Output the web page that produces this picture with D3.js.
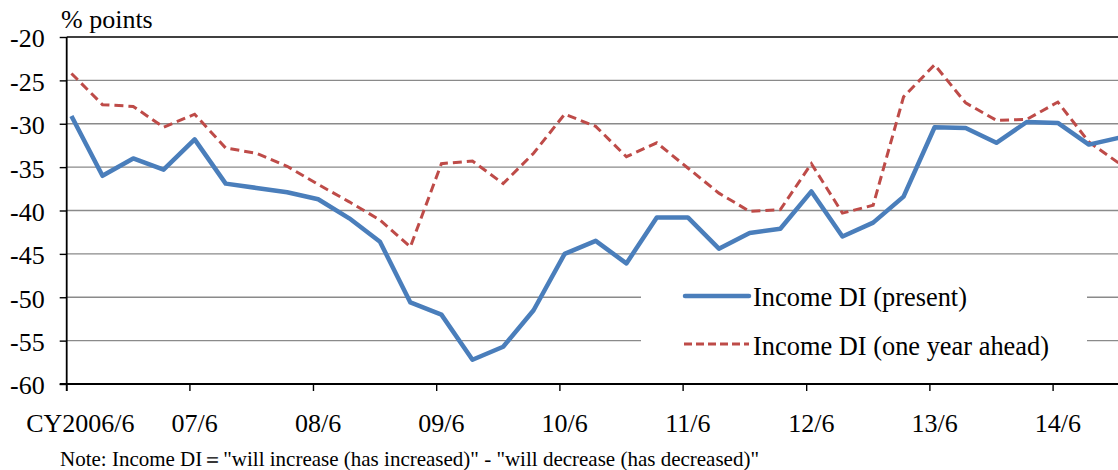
<!DOCTYPE html>
<html><head><meta charset="utf-8">
<script src="https://cdn.jsdelivr.net/npm/d3@7"></script>
<style>
body{margin:0;background:#fff}
svg{display:block}
</style>
</head><body>
<svg id="c" width="1118" height="470"></svg>
<script>
// ---- data ----
const quarters = ["2006-06","2006-09","2006-12","2007-03","2007-06","2007-09","2007-12","2008-03",
  "2008-06","2008-09","2008-12","2009-03","2009-06","2009-09","2009-12","2010-03",
  "2010-06","2010-09","2010-12","2011-03","2011-06","2011-09","2011-12","2012-03",
  "2012-06","2012-09","2012-12","2013-03","2013-06","2013-09","2013-12","2014-03",
  "2014-06","2014-09","2014-12"];
const incomePresent = [-29.1,-36.0,-34.0,-35.3,-31.8,-36.9,-37.4,-37.9,
  -38.7,-40.9,-43.6,-50.6,-52.0,-57.2,-55.7,-51.5,
  -45.0,-43.5,-46.1,-40.8,-40.8,-44.4,-42.6,-42.1,
  -37.8,-43.0,-41.4,-38.4,-30.4,-30.5,-32.2,-29.8,
  -29.9,-32.4,-31.6];
const incomeAhead = [-24.2,-27.8,-28.0,-30.4,-28.9,-32.8,-33.4,-34.9,
  -37.0,-39.0,-41.1,-44.2,-34.6,-34.3,-36.9,-33.4,
  -28.9,-30.3,-33.8,-32.2,-35.1,-38.0,-40.1,-39.9,
  -34.6,-40.3,-39.4,-26.9,-23.2,-27.6,-29.6,-29.5,
  -27.5,-32.1,-34.6];
const yTicks = [-60,-55,-50,-45,-40,-35,-30,-25,-20];
const xTickYears = ["2006","2007","2008","2009","2010","2011","2012","2013","2014"];
const xTickLabels = ["CY2006/6","07/6","08/6","09/6","10/6","11/6","12/6","13/6","14/6"];
const seriesNames = ["Income DI (present)","Income DI (one year ahead)"];
const yTitle = "% points";
const note = "Note: Income DI\uFF1D\"will increase (has increased)\" - \"will decrease (has decreased)\"";

// ---- layout ----
const FONT = '"Liberation Serif", "Times New Roman", Times, serif';
const svg = d3.select("#c");
const pLeft = 66.7, pTop = 37, pBottom = 384, pRight = 1125;
const parseQ = s => { const [yy,m] = s.split("-").map(Number); return new Date(yy, m-1, 15); };
const x = d3.scaleTime()
  .domain([new Date(2006,5,1), new Date(2014,5,1)])
  .range([pLeft, 1053.1]);
const y = d3.scaleLinear().domain([-60,-20]).range([pBottom, pTop]);

// gridlines
svg.append("g").selectAll("line").data(yTicks.filter(v => v > -60 && v < -20)).join("line")
  .attr("x1", pLeft).attr("x2", pRight)
  .attr("y1", d => y(d)).attr("y2", d => y(d))
  .attr("stroke", "#8a8a8a").attr("stroke-width", 1.4);
// top border
svg.append("line").attr("x1", pLeft).attr("x2", pRight).attr("y1", y(-20)).attr("y2", y(-20))
  .attr("stroke", "#000").attr("stroke-width", 1.6);

// legend box (hides gridlines)
svg.append("rect").attr("x", 641).attr("y", 262).attr("width", 446).attr("height", 116).attr("fill", "#fff");

// y axis
const yAxis = svg.append("g").attr("transform", `translate(${pLeft},0)`)
  .call(d3.axisLeft(y).tickValues(yTicks).tickSize(7).tickPadding(15));
yAxis.attr("font-family", null).attr("font-size", null);
yAxis.select(".domain").remove();
yAxis.selectAll("line").attr("stroke", "#000").attr("stroke-width", 1.4);
yAxis.selectAll("text").attr("font-size", 26)
  .attr("dy", "0.38em").attr("fill", "#000").text(d => String(d));
svg.append("line").attr("x1", pLeft).attr("x2", pLeft).attr("y1", pTop).attr("y2", pBottom + 7)
  .attr("stroke", "#000").attr("stroke-width", 1.8);

// x axis
svg.append("line").attr("x1", pLeft - 7).attr("x2", pRight).attr("y1", pBottom).attr("y2", pBottom)
  .attr("stroke", "#000").attr("stroke-width", 1.8);
const tickDates = xTickYears.map(yr => new Date(+yr, 5, 1));
svg.append("g").selectAll("line").data(tickDates).join("line")
  .attr("x1", d => x(d)).attr("x2", d => x(d)).attr("y1", pBottom).attr("y2", pBottom + 7)
  .attr("stroke", "#000").attr("stroke-width", 1.4);
svg.append("g").selectAll("text").data(xTickYears).join("text")
  .attr("x", (d, i) => x(new Date(+d, 5, 15)) + (i === 0 ? 9 : 0))
  .attr("y", 432).attr("text-anchor", "middle").attr("font-size", 26)
  .text((d, i) => xTickLabels[i]);

// y title
svg.append("text").attr("x", 61).attr("y", 28).attr("font-size", 26).text(yTitle);

// lines
const line = d3.line().x(d => x(parseQ(d.q))).y(d => y(d.v));
const presentData = quarters.map((q, i) => ({q, v: incomePresent[i]}));
const aheadData = quarters.map((q, i) => ({q, v: incomeAhead[i]}));
svg.append("path").datum(aheadData).attr("d", line).attr("fill", "none")
  .attr("stroke", "#BE4B48").attr("stroke-width", 3).attr("stroke-dasharray", "9,5");
svg.append("path").datum(presentData).attr("d", line).attr("fill", "none")
  .attr("stroke", "#4A7EBB").attr("stroke-width", 4.5).attr("stroke-linejoin", "round");

// legend
const lg = svg.append("g");
lg.append("line").attr("x1", 685).attr("x2", 749).attr("y1", 296).attr("y2", 296)
  .attr("stroke", "#4A7EBB").attr("stroke-width", 4.5).attr("stroke-linecap", "round");
lg.append("line").attr("x1", 684).attr("x2", 749).attr("y1", 344).attr("y2", 344)
  .attr("stroke", "#BE4B48").attr("stroke-width", 3).attr("stroke-dasharray", "8,4");
lg.append("text").attr("x", 753).attr("y", 306).attr("font-size", 26.4).text(seriesNames[0]);
lg.append("text").attr("x", 753).attr("y", 355).attr("font-size", 26.4).text(seriesNames[1]);

// note
svg.append("text").attr("x", 60).attr("y", 466).attr("font-size", 21).text(note);

svg.selectAll("text").style("font-family", FONT).attr("fill", "#000");
</script>
</body></html>
